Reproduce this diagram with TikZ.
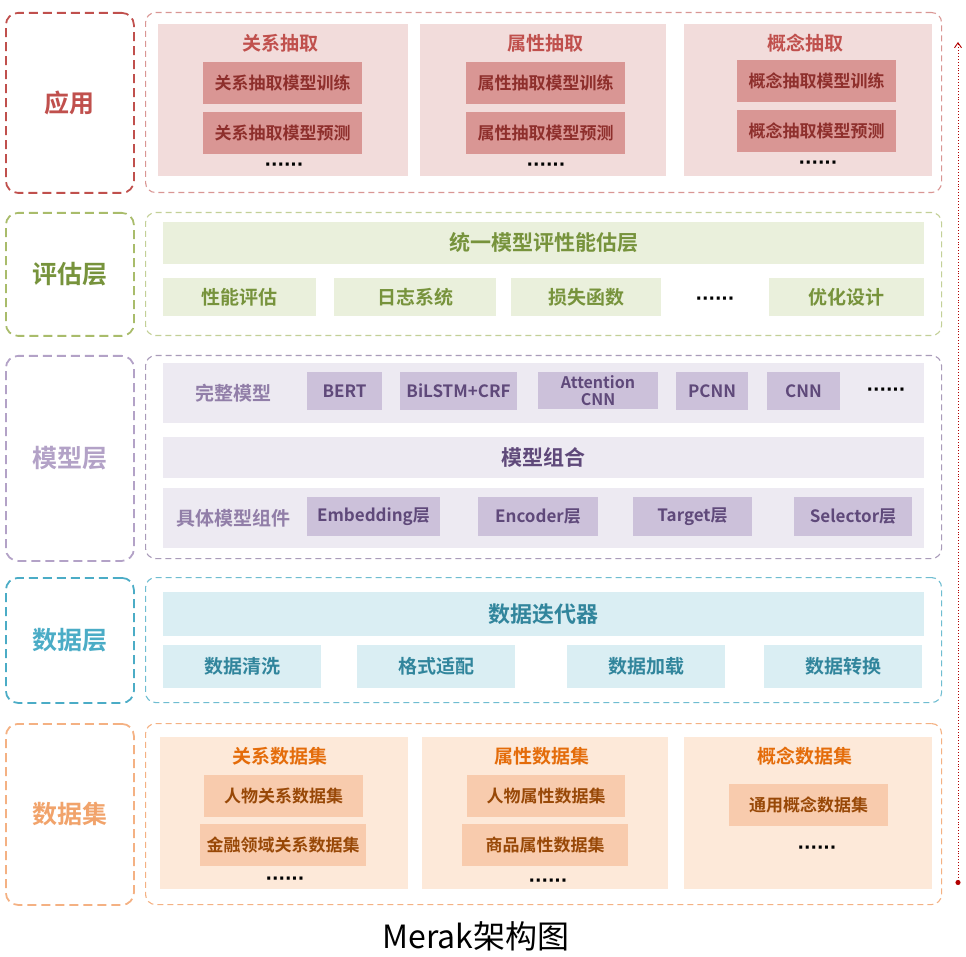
\documentclass[tikz,border=0pt]{standalone}
\usepackage{fontspec}
\setmainfont{Noto Sans CJK SC}[BoldFont={Noto Sans CJK SC Bold}]
\newfontfamily\dotfont{DejaVu Sans}
\usetikzlibrary{arrows.meta}

\definecolor{appline}{HTML}{C0504D}
\definecolor{appfill}{HTML}{F2DCDB}
\definecolor{appbox}{HTML}{D99694}
\definecolor{apptext}{HTML}{8E2F2C}
\definecolor{evaline}{HTML}{A9BC6B}
\definecolor{evafill}{HTML}{EAF0DC}
\definecolor{evatext}{HTML}{77933C}
\definecolor{modline}{HTML}{B3A2C7}
\definecolor{modfill}{HTML}{EDEAF2}
\definecolor{modbox}{HTML}{CCC1DA}
\definecolor{modtext}{HTML}{5F497A}
\definecolor{datline}{HTML}{4BACC6}
\definecolor{datfill}{HTML}{DAEEF3}
\definecolor{dattext}{HTML}{31859C}
\definecolor{setline}{HTML}{F4B183}
\definecolor{setfill}{HTML}{FDE9D9}
\definecolor{setbox}{HTML}{F8CBAD}
\definecolor{settext}{HTML}{984807}
\definecolor{settitle}{HTML}{E46C0A}

\tikzset{
  layer/.style={draw=#1, rounded corners=12pt, line width=1.8pt,
    dash pattern=on 9pt off 5pt, anchor=north west, inner sep=0pt,
    minimum width=128pt, font=\bfseries\fontsize{25}{28}\selectfont},
  frame/.style={draw=#1, rounded corners=10pt, line width=1.1pt,
    dash pattern=on 6pt off 4pt, anchor=north west, inner sep=0pt,
    minimum width=796pt},
  block/.style={fill=#1, anchor=north west, inner sep=0pt, outer sep=0pt},
  dots/.style={font=\dotfont\bfseries\fontsize{17}{17}\selectfont, inner sep=0pt}
}

\begin{document}
\begin{tikzpicture}[x=1pt, y=-1pt]
        \useasboundingbox (0,0) rectangle (966,957);

        % application layer
        \node[layer=appline, minimum height=180pt, text=appline] (applay) at (5,12) {应用};
        \node[frame=appbox, minimum height=180pt] (appfr) at (145,12) {};
        \node[block=appfill, minimum width=250pt, minimum height=152pt] (apppa) at (158,24) {};
        \node[block=appfill, minimum width=246pt, minimum height=152pt] (apppb) at (420,24) {};
        \node[block=appfill, minimum width=248pt, minimum height=152pt] (apppc) at (684,24) {};
        \begin{scope}[every node/.append style={text=appline, font=\bfseries\fontsize{19}{21}\selectfont}]
        \node (appta) at (280,43) {关系抽取};
        \node (apptb) at (545,43) {属性抽取};
        \node (apptc) at (805,43) {概念抽取};
        \end{scope}
        \begin{scope}[every node/.append style={block=appbox, minimum width=159pt, minimum height=42pt,
            text=apptext, font=\bfseries\fontsize{17}{19}\selectfont}]
        \node (appa1) at (203,62) {关系抽取模型训练};
        \node (appa2) at (203,112) {关系抽取模型预测};
        \node (appb1) at (466,62) {属性抽取模型训练};
        \node (appb2) at (466,112) {属性抽取模型预测};
        \node (appc1) at (737,60) {概念抽取模型训练};
        \node (appc2) at (737,110) {概念抽取模型预测};
        \end{scope}
        \node[dots] (appda) at (284,167) {······};
        \node[dots] (appdb) at (546,167) {······};
        \node[dots] (appdc) at (818,165) {······};

        % evaluation layer
        \node[layer=evaline, minimum height=123pt, text=evatext] (evalay) at (5,212) {评估层};
        \node[frame=evaline!70, minimum height=123pt] (evafr) at (145,212) {};
        \begin{scope}[every node/.append style={block=evafill, minimum height=38pt,
            text=evatext, font=\bfseries\fontsize{19}{21}\selectfont}]
        \node[minimum width=761pt, minimum height=42pt, font=\bfseries\fontsize{21}{23}\selectfont] (evabar) at (163,222) {统一模型评性能估层};
        \node[minimum width=153pt] (evaa) at (163,278) {性能评估};
        \node[minimum width=162pt] (evab) at (334,278) {日志系统};
        \node[minimum width=150pt] (evac) at (511,278) {损失函数};
        \node[minimum width=155pt] (evad) at (769,278) {优化设计};
        \end{scope}
        \node[dots] (evadots) at (715,301) {······};

        % model layer
        \node[layer=modline, minimum height=205pt, text=modline] (modlay) at (5,355) {模型层};
        \node[frame=modline!80!gray, minimum height=203pt] (modfr) at (145,355) {};
        \node[block=modfill, minimum width=761pt, minimum height=60pt] (modfull) at (163,363) {};
        \node[block=modfill, minimum width=761pt, minimum height=41pt, text=modtext,
            font=\bfseries\fontsize{21}{23}\selectfont] (modmix) at (163,437) {模型组合};
        \node[block=modfill, minimum width=761pt, minimum height=60pt] (modpart) at (163,488) {};
        \node[text=modline!60!modtext, font=\bfseries\fontsize{19}{21}\selectfont] (modfullt) at (233,393) {完整模型};
        \node[text=modline!60!modtext, font=\bfseries\fontsize{19}{21}\selectfont] (modpartt) at (233,518) {具体模型组件};
        \begin{scope}[every node/.append style={block=modbox, minimum height=38pt, text=modtext,
            font=\bfseries\fontsize{17}{17}\selectfont, align=center}]
        \node[minimum width=75pt] (bert) at (307,372) {BERT};
        \node[minimum width=117pt] (bilstm) at (400,372) {BiLSTM+CRF};
        \node[minimum width=120pt, minimum height=37pt, font=\bfseries\fontsize{16}{17}\selectfont] (attcnn) at (538,372) {Attention\\CNN};
        \node[minimum width=72pt] (pcnn) at (676,372) {PCNN};
        \node[minimum width=73pt] (cnn) at (767,372) {CNN};
        \node[minimum width=133pt, minimum height=39pt] (embed) at (307,497) {Embedding层};
        \node[minimum width=120pt, minimum height=39pt] (encod) at (478,497) {Encoder层};
        \node[minimum width=119pt, minimum height=39pt] (targ) at (633,497) {Target层};
        \node[minimum width=118pt, minimum height=39pt] (selec) at (794,497) {Selector层};
        \end{scope}
        \node[dots] (moddots) at (886,392) {······};

        % data layer
        \node[layer=datline, minimum height=125pt, text=datline] (datlay) at (5,577) {数据层};
        \node[frame=datline!80, minimum height=125pt] (datfr) at (145,577) {};
        \begin{scope}[every node/.append style={block=datfill, minimum width=158pt, minimum height=43pt,
            text=dattext, font=\bfseries\fontsize{19}{21}\selectfont}]
        \node[minimum width=761pt, minimum height=44pt, font=\bfseries\fontsize{22}{24}\selectfont] (datbar) at (163,592) {数据迭代器};
        \node (data) at (163,645) {数据清洗};
        \node (datb) at (357,645) {格式适配};
        \node (datc) at (567,645) {数据加载};
        \node (datd) at (764,645) {数据转换};
        \end{scope}

        % dataset layer
        \node[layer=setline, minimum height=181pt, text=setline!80!settitle] (setlay) at (5,723) {数据集};
        \node[frame=setline, minimum height=181pt] (setfr) at (145,723) {};
        \node[block=setfill, minimum width=248pt, minimum height=152pt] (setpa) at (160,737) {};
        \node[block=setfill, minimum width=246pt, minimum height=152pt] (setpb) at (422,737) {};
        \node[block=setfill, minimum width=248pt, minimum height=152pt] (setpc) at (684,737) {};
        \begin{scope}[every node/.append style={text=settitle, font=\bfseries\fontsize{19}{21}\selectfont}]
        \node (setta) at (280,756) {关系数据集};
        \node (settb) at (542,756) {属性数据集};
        \node (settc) at (805,756) {概念数据集};
        \end{scope}
        \begin{scope}[every node/.append style={block=setbox, minimum height=42pt,
            text=settext, font=\bfseries\fontsize{17}{19}\selectfont}]
        \node[minimum width=159pt] (seta1) at (204,775) {人物关系数据集};
        \node[minimum width=166pt] (seta2) at (200,824) {金融领域关系数据集};
        \node[minimum width=158pt] (setb1) at (467,775) {人物属性数据集};
        \node[minimum width=166pt] (setb2) at (462,824) {商品属性数据集};
        \node[minimum width=159pt] (setc1) at (729,784) {通用概念数据集};
        \end{scope}
        \node[dots] (setda) at (285,881) {······};
        \node[dots] (setdb) at (548,883) {······};
        \node[dots] (setdc) at (817,850) {······};

        % bottom-up arrow
        \coordinate (low) at (958,885);
        \coordinate (up) at (958,42);
        \draw[red!70!black, line width=.9pt, dotted, {Circle[length=5pt]}-{Straight Barb[length=5pt, width=7pt]}] (low) -- (up);

        \node[font=\fontsize{32}{36}\selectfont] (title) at (476,936) {Merak架构图};
    \end{tikzpicture}
\end{document}
